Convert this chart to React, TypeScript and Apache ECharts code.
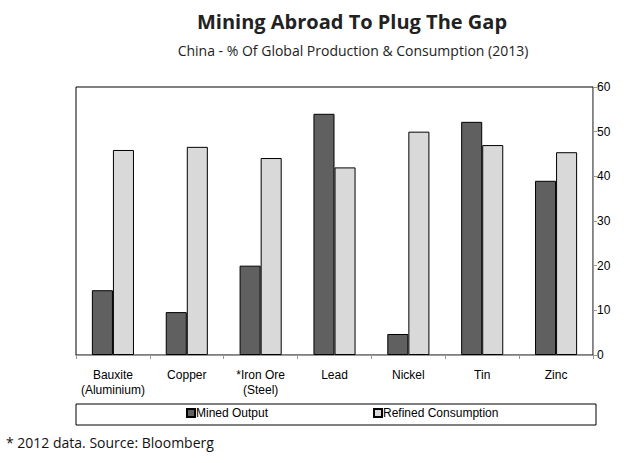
import React, { useEffect, useRef } from "react";
import * as echarts from "echarts";

const categories = ["Bauxite\n(Aluminium)", "Copper", "*Iron Ore\n(Steel)", "Lead", "Nickel", "Tin", "Zinc"];
const minedOutput = [14.5, 9.6, 20, 54, 4.7, 52.2, 39];
const refinedConsumption = [45.9, 46.6, 44.1, 42, 50, 47, 45.4];
const yTicks = { min: 0, max: 60, interval: 10 };

export default function App() {
  const ref = useRef<HTMLDivElement>(null);
  useEffect(() => {
    if (!ref.current) return;
    const chart = echarts.init(ref.current, null, { renderer: "svg" });
    const axisFont = "'Liberation Sans', Arial, sans-serif";
    chart.setOption({
      animation: false,
      backgroundColor: "#fff",
      title: [
        {
          text: "Mining Abroad To Plug The Gap",
          left: 347,
          top: 6,
          textAlign: "center",
          textStyle: { fontFamily: "'Open Sans', sans-serif", fontWeight: "bold", fontSize: 20, color: "#222" },
        },
        {
          text: "China - % Of Global Production & Consumption (2013)",
          left: 348,
          top: 38,
          textAlign: "center",
          textStyle: { fontFamily: "'Open Sans', sans-serif", fontWeight: "normal", fontSize: 14, color: "#222" },
        },
        {
          text: "* 2012 data. Source: Bloomberg",
          left: 1,
          top: 430,
          textStyle: { fontFamily: "'Open Sans', sans-serif", fontWeight: "normal", fontSize: 14, color: "#111" },
        },
      ],
      grid: {
        left: 76,
        top: 87,
        width: 517,
        height: 268,
        show: true,
        borderColor: "#000",
        borderWidth: 1,
        backgroundColor: "transparent",
      },
      graphic: [
        {
          type: "rect",
          shape: { x: 76, y: 404, width: 520, height: 21 },
          style: { fill: "#fff", stroke: "#000", lineWidth: 1 },
          z: 0,
        },
      ],
      legend: [
        {
          data: ["Mined Output"],
          left: 181,
          top: 402,
          itemWidth: 8,
          itemHeight: 8,
          icon: "rect",
          textStyle: { fontFamily: axisFont, fontSize: 12, color: "#000", padding: [0, 0, 0, -4] },
          z: 5,
        },
        {
          data: ["Refined Consumption"],
          left: 368,
          top: 402,
          itemWidth: 8,
          itemHeight: 8,
          icon: "rect",
          textStyle: { fontFamily: axisFont, fontSize: 12, color: "#000", padding: [0, 0, 0, -4] },
          z: 5,
        },
      ],
      xAxis: {
        type: "category",
        data: categories,
        axisLine: { lineStyle: { color: "#999", width: 1 } },
        axisTick: { show: true, length: 4, lineStyle: { color: "#999" } },
        axisLabel: { interval: 0, fontFamily: axisFont, fontSize: 12, color: "#000", margin: 12, lineHeight: 15 },
      },
      yAxis: {
        type: "value",
        position: "right",
        min: yTicks.min,
        max: yTicks.max,
        interval: yTicks.interval,
        splitLine: { show: false },
        axisLine: { show: true, lineStyle: { color: "#999", width: 1 } },
        axisTick: { show: true, length: 4, lineStyle: { color: "#999" } },
        axisLabel: { fontFamily: axisFont, fontSize: 12, color: "#000", margin: 4 },
      },
      series: [
        {
          name: "Mined Output",
          type: "bar",
          data: minedOutput,
          barGap: "0%",
          barCategoryGap: "43%",
          itemStyle: { color: "#606060", borderColor: "#000", borderWidth: 1 },
        },
        {
          name: "Refined Consumption",
          type: "bar",
          data: refinedConsumption,
          barGap: "0%",
          barCategoryGap: "43%",
          itemStyle: { color: "#d9d9d9", borderColor: "#000", borderWidth: 1 },
        },
      ],
    });
    return () => chart.dispose();
  }, []);
  return (
    <div
      ref={ref}
      style={{ position: "absolute", left: 0, top: 0, width: 637, height: 463 }}
    />
  );
}
